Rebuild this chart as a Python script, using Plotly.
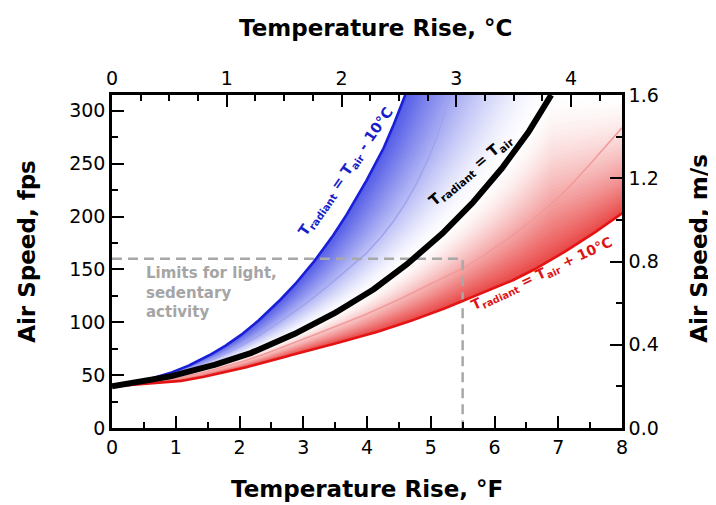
import numpy as np
import plotly.graph_objects as go

# ---------------- data ----------------
temp_F_cool = [0, 0.5, 1, 1.5, 2, 2.5, 3, 3.5, 4, 4.3, 4.6]            # T_radiant = T_air - 10°C
speed_cool = [39.4, 45, 54, 68, 87, 113, 145, 185, 235, 270, 315]
temp_F_cool5 = [0, 1, 2, 3, 3.5, 4, 4.5, 5, 5.31]                        # T_radiant = T_air - 5°C
speed_cool5 = [39.4, 52, 77, 116, 140, 166, 203, 260, 315]
temp_F_equal = [0, 0.5, 1, 1.5, 2, 2.5, 3, 3.5, 4, 4.5, 5, 5.5, 6, 6.5, 6.89]  # T_radiant = T_air
speed_equal = [39.4, 44, 50, 58, 67, 79, 93, 109, 127, 149, 174, 203, 237, 277, 315]
temp_F_warm5 = [0, 1, 2, 3, 4, 5, 5.5, 6, 7, 8]                          # T_radiant = T_air + 5°C
speed_warm5 = [39.4, 47, 62, 84, 108, 136, 151, 170, 218, 284]
temp_F_warm = [0, 1, 2, 3, 4, 5, 5.5, 6, 6.5, 7, 7.5, 8]                 # T_radiant = T_air + 10°C
speed_warm = [39.4, 44, 56, 72, 88, 108, 120, 132, 146, 163, 182, 203]
limit_F = 5.5
limit_fps = 160

x_range_F = [0, 8]
y_range_fps = [0, 1.6 * 196.85]
x_range_C = [0, 8 / 1.8]
y_range_ms = [0, 1.6]

FONT = "DejaVu Sans"


def pchip(x, y, xn):
    x = np.asarray(x, float)
    y = np.asarray(y, float)
    h = np.diff(x)
    d = np.diff(y) / h
    m = np.zeros_like(y)
    for k in range(1, len(x) - 1):
        if d[k - 1] * d[k] > 0:
            w1 = 2 * h[k] + h[k - 1]
            w2 = h[k] + 2 * h[k - 1]
            m[k] = (w1 + w2) / (w1 / d[k - 1] + w2 / d[k])
    m[0] = d[0]
    m[-1] = d[-1]
    xn = np.asarray(xn, float)
    idx = np.clip(np.searchsorted(x, xn) - 1, 0, len(h) - 1)
    t = (xn - x[idx]) / h[idx]
    h00 = 2 * t**3 - 3 * t**2 + 1
    h10 = t**3 - 2 * t**2 + t
    h01 = -2 * t**3 + 3 * t**2
    h11 = t**3 - t**2
    return h00 * y[idx] + h10 * h[idx] * m[idx] + h01 * y[idx + 1] + h11 * h[idx] * m[idx + 1]


def dense(xs, ys, n=400):
    xd = np.linspace(xs[0], xs[-1], n)
    return xd, pchip(xs, ys, xd)


xc, yc = dense(temp_F_cool, speed_cool)
xc5, yc5 = dense(temp_F_cool5, speed_cool5)
xe, ye = dense(temp_F_equal, speed_equal)
xw5, yw5 = dense(temp_F_warm5, speed_warm5)
xw, yw = dense(temp_F_warm, speed_warm)

fig = go.Figure()

N = 40
top = y_range_fps[1]


def col(base, t):
    s = 0.82 * t ** 1.6
    r = 255 * (1 - s) + base[0] * s
    g = 255 * (1 - s) + base[1] * s
    b = 255 * (1 - s) + base[2] * s
    return f"rgb({r:.0f},{g:.0f},{b:.0f})"


# blue band region (parameterised by speed)
yg = np.linspace(speed_cool[0], top, 300)
xb = np.interp(yg, yc, xc)
xk = np.interp(yg, ye, xe)
blue = (45, 55, 225)
for i in range(N):
    t0 = i / N
    xa = xk + t0 * (xb - xk)
    px = np.concatenate([xa, xb[::-1]])
    py = np.concatenate([yg, yg[::-1]])
    fig.add_trace(go.Scatter(x=px, y=py, fill="toself", mode="lines", line=dict(width=0),
                             fillcolor=col(blue, t0 + 0.5 / N), hoverinfo="skip", showlegend=False))

# red band region (parameterised by temperature)
xg = np.linspace(0, x_range_F[1], 300)
yr = np.interp(xg, xw, yw)
yk = np.where(xg <= temp_F_equal[-1], np.interp(xg, xe, ye), top)
yk = np.minimum(yk, top)
red = (228, 30, 30)
for i in range(N):
    t0 = i / N
    ya = yk + t0 * (yr - yk)
    px = np.concatenate([xg, xg[::-1]])
    py = np.concatenate([ya, yr[::-1]])
    fig.add_trace(go.Scatter(x=px, y=py, fill="toself", mode="lines", line=dict(width=0),
                             fillcolor=col(red, t0 + 0.5 / N), hoverinfo="skip", showlegend=False))

# intermediate lines
fig.add_trace(go.Scatter(x=xc5, y=yc5, mode="lines", line=dict(color="rgb(160,164,238)", width=1.6),
                         hoverinfo="skip", showlegend=False))
fig.add_trace(go.Scatter(x=xw5, y=yw5, mode="lines", line=dict(color="rgb(242,155,155)", width=1.6),
                         hoverinfo="skip", showlegend=False))

# limits dashed lines
fig.add_trace(go.Scatter(x=[0, limit_F, limit_F], y=[limit_fps, limit_fps, 0], mode="lines",
                         line=dict(color="rgb(168,168,168)", width=2.5, dash="10px,6px"),
                         hoverinfo="skip", showlegend=False))

# main curves
fig.add_trace(go.Scatter(x=xc, y=yc, mode="lines", line=dict(color="rgb(25,30,215)", width=2.6),
                         showlegend=False))
fig.add_trace(go.Scatter(x=xw, y=yw, mode="lines", line=dict(color="rgb(228,20,20)", width=2.6),
                         showlegend=False))
fig.add_trace(go.Scatter(x=xe, y=ye, mode="lines", line=dict(color="black", width=6),
                         showlegend=False))

# invisible trace for secondary axes
fig.add_trace(go.Scatter(x=x_range_C, y=y_range_ms, xaxis="x2", yaxis="y2", mode="markers",
                         marker=dict(opacity=0), hoverinfo="skip", showlegend=False))

axis_common = dict(ticks="inside", ticklen=12, tickwidth=2, tickcolor="black",
                   showline=True, linewidth=2.5, linecolor="black", showgrid=False, zeroline=False,
                   tickfont=dict(family=FONT, size=19, color="black"))

# page body has an 8px default margin, so the figure is offset by 8px
fig.update_layout(
    width=708, height=497,
    margin=dict(l=104, r=94, t=87, b=77, autoexpand=False),
    paper_bgcolor="white", plot_bgcolor="white",
    xaxis=dict(range=x_range_F, dtick=1, tick0=0,
               minor=dict(dtick=0.5, ticklen=6, tickwidth=2, ticks="inside", tickcolor="black"),
               **axis_common),
    xaxis2=dict(range=x_range_C, overlaying="x", side="top", dtick=1, tick0=0,
                minor=dict(dtick=0.25, ticklen=6, tickwidth=2, ticks="inside", tickcolor="black"),
                **axis_common),
    yaxis=dict(range=y_range_fps, dtick=50, tick0=0,
               minor=dict(dtick=25, ticklen=6, tickwidth=2, ticks="inside", tickcolor="black"),
               **axis_common),
    yaxis2=dict(range=y_range_ms, overlaying="y", side="right", dtick=0.4, tick0=0, tickformat=".1f",
                minor=dict(dtick=0.2, ticklen=6, tickwidth=2, ticks="inside", tickcolor="black"),
                **axis_common),
)

title_font = dict(family=FONT, size=23, color="black")
annos = [
    dict(text="<b>Temperature Rise, °C</b>", x=0.516, y=1.201, xref="paper", yref="paper",
         xanchor="center", yanchor="middle", showarrow=False, font=title_font),
    dict(text="<b>Temperature Rise, °F</b>", x=0.5, y=-0.183, xref="paper", yref="paper",
         xanchor="center", yanchor="middle", showarrow=False, font=title_font),
    dict(text="<b>Air Speed, fps</b>", x=-0.168, y=0.53, xref="paper", yref="paper",
         xanchor="center", yanchor="middle", showarrow=False, font=title_font, textangle=-90),
    dict(text="<b>Air Speed, m/s</b>", x=1.152, y=0.54, xref="paper", yref="paper",
         xanchor="center", yanchor="middle", showarrow=False, font=title_font, textangle=-90),
    dict(text="<b>T<sub>radiant</sub> = T<sub>air</sub> - 10°C</b>", x=3.68, y=242, xref="x", yref="y",
         showarrow=False, textangle=-55, font=dict(family=FONT, size=14.5, color="rgb(25,30,200)")),
    dict(text="<b>T<sub>radiant</sub> = T<sub>air</sub></b>", x=5.62, y=244, xref="x", yref="y",
         showarrow=False, textangle=-40, font=dict(family=FONT, size=15, color="black")),
    dict(text="<b>T<sub>radiant</sub> = T<sub>air</sub> + 10°C</b>", x=6.75, y=146, xref="x", yref="y",
         showarrow=False, textangle=-25, font=dict(family=FONT, size=14, color="rgb(220,20,20)")),
    dict(text="<b>Limits for light,<br>sedentary<br>activity</b>", x=0.5, y=157, xref="x", yref="y",
         xanchor="left", yanchor="top", align="left", showarrow=False,
         font=dict(family=FONT, size=15, color="rgb(165,165,165)")),
]
fig.update_layout(annotations=annos)

fig.write_html("out.html")
